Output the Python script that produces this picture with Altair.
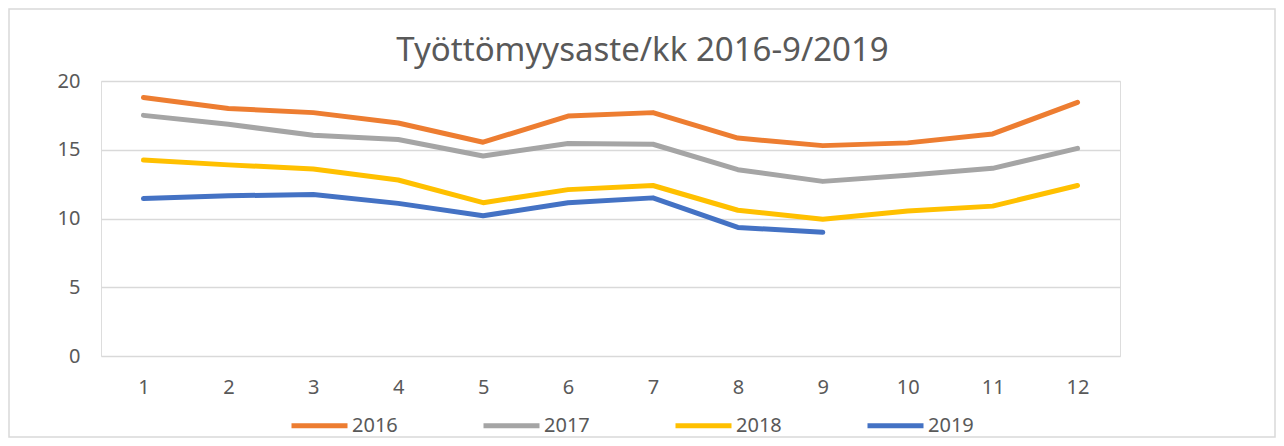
import altair as alt
import pandas as pd

months = list(range(1, 13))
y2016 = [18.8, 18.0, 17.7, 16.95, 15.55, 17.45, 17.7, 15.85, 15.3, 15.5, 16.15, 18.45]
y2017 = [17.5, 16.85, 16.05, 15.75, 14.55, 15.45, 15.4, 13.55, 12.7, 13.15, 13.65, 15.1]
y2018 = [14.25, 13.9, 13.6, 12.8, 11.15, 12.1, 12.4, 10.6, 9.95, 10.55, 10.9, 12.4]
y2019 = [11.45, 11.65, 11.75, 11.1, 10.2, 11.15, 11.5, 9.35, 9.0]

series = {"2016": y2016, "2017": y2017, "2018": y2018, "2019": y2019}
colors = ["#ED7D31", "#A5A5A5", "#FFC000", "#4472C4"]
title_text = "Työttömyysaste/kk 2016-9/2019"

rows = []
for year, vals in series.items():
    for m, v in zip(months, vals):
        rows.append({"kk": m, "vuosi": year, "arvo": v})
df = pd.DataFrame(rows)

FONT = "Noto Sans"
GREY = "#595959"
LBL = 20

one = pd.DataFrame({"a": [0]})

border = alt.Chart(one).mark_rect(
    fill=None, stroke="#D9D9D9", strokeWidth=1.5
).encode(
    x=alt.value(-92), x2=alt.value(1174), y=alt.value(-72), y2=alt.value(356)
)

title = alt.Chart(one).mark_text(
    text=title_text, fontSize=33, font=FONT, color=GREY, align="center",
    baseline="alphabetic"
).encode(x=alt.value(541.5), y=alt.value(-20.5))

lines = alt.Chart(df).mark_line(strokeWidth=5, strokeCap="round", strokeJoin="round").encode(
    x=alt.X("kk:O", title=None,
            scale=alt.Scale(type="point", padding=0.5),
            axis=alt.Axis(labelAngle=0, grid=False, domain=False, ticks=False,
                          labelPadding=21, labelFontSize=LBL, labelFont=FONT,
                          labelColor=GREY)),
    y=alt.Y("arvo:Q", title=None,
            scale=alt.Scale(domain=[0, 20], nice=False),
            axis=alt.Axis(values=[0, 5, 10, 15, 20], grid=True, gridColor="#D9D9D9",
                          gridWidth=1.5, domain=False, ticks=False, labelPadding=21,
                          labelFontSize=LBL, labelFont=FONT, labelColor=GREY)),
    color=alt.Color("vuosi:N", title=None,
                    scale=alt.Scale(domain=list(series.keys()), range=colors),
                    legend=alt.Legend(orient="none", legendX=188, legendY=314,
                                      direction="horizontal", symbolType="stroke",
                                      symbolSize=3136, symbolStrokeWidth=5,
                                      labelFontSize=LBL, labelFont=FONT, labelColor=GREY,
                                      labelOffset=2, columnPadding=75)),
    detail="vuosi:N",
)

chart = alt.layer(border, title, lines).properties(
    width=1019,
    height=275,
    autosize=alt.AutoSizeParams(type="none"),
    padding={"left": 93, "top": 73, "right": 156, "bottom": 82},
).configure_view(stroke=None).configure(background="white")

chart.save("out.html", embed_options={"renderer": "svg", "actions": False})
